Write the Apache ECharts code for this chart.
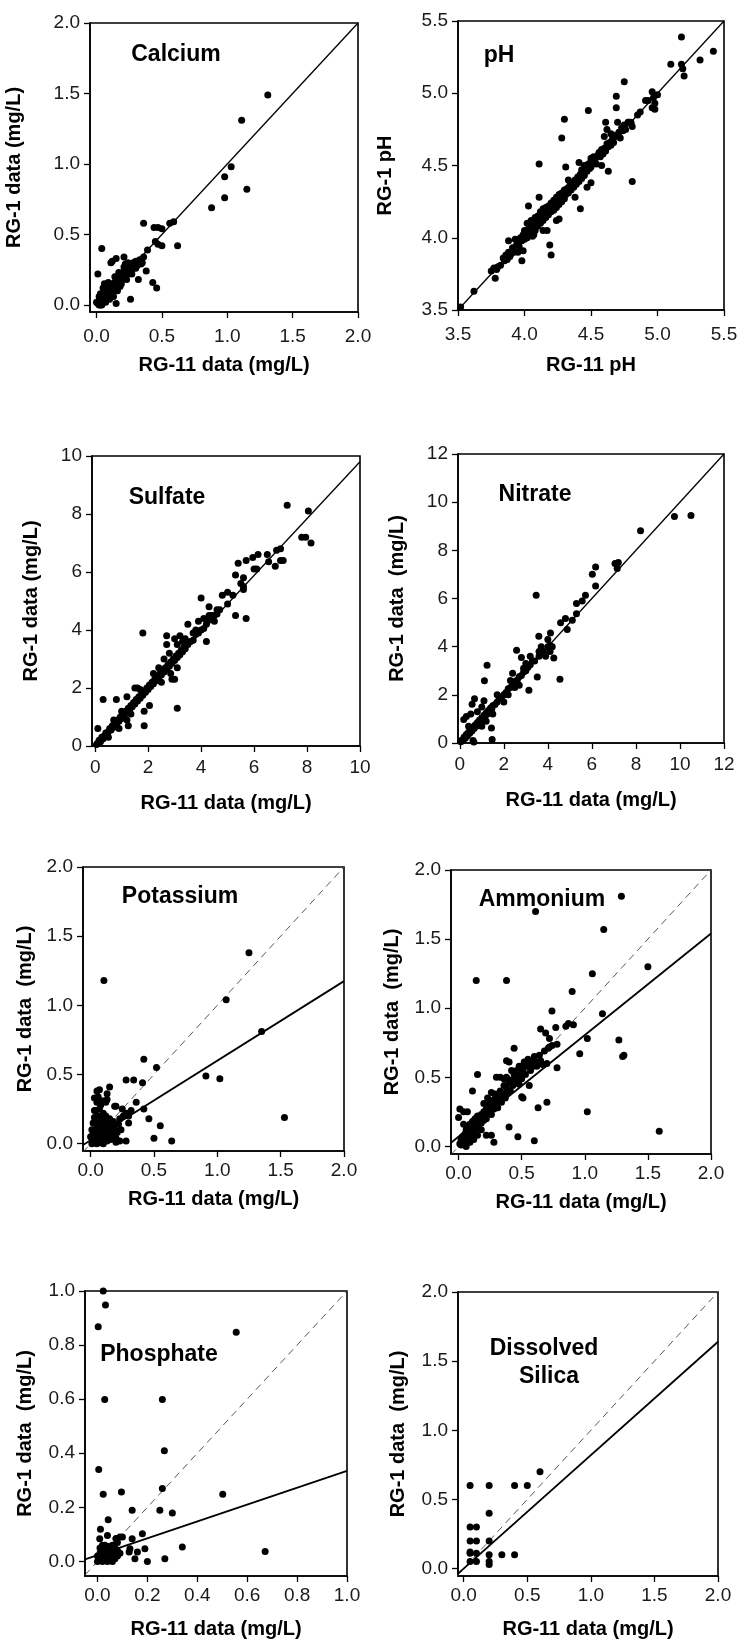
<!DOCTYPE html>
<html>
<head>
<meta charset="utf-8">
<script src="https://cdn.jsdelivr.net/npm/echarts@6/dist/echarts.min.js"></script>
<style>
html,body{margin:0;padding:0;background:#fff;}
#chart{width:754px;height:1641px;}
</style>
</head>
<body>
<div id="chart"></div>
<script>
// ---------------- DATA ----------------
const calciumPts = [
[1.31,1.49],[1.11,1.31],[1.03,0.98],[0.98,0.91],[1.15,0.82],[0.98,0.76],[0.88,0.69],
[0.36,0.58],[0.44,0.55],[0.47,0.55],[0.50,0.54],[0.56,0.58],[0.59,0.59],[0.62,0.42],[0.47,0.43],[0.50,0.42],[0.45,0.45],
[0.39,0.39],[0.36,0.34],[0.35,0.30],[0.30,0.31],[0.28,0.30],
[0.04,0.40],[0.01,0.22],[0.12,0.31],[0.15,0.33],[0.21,0.34],[0.11,0.30],
[0.43,0.16],[0.46,0.12],[0.26,0.04],[0.15,0.01],[0.32,0.18],[0.38,0.24],[0.27,0.22],[0.22,0.29],[0.25,0.27],
[0.01,0.01],[0.02,0.00],[0.02,0.03],[0.03,0.02],[0.04,0.05],[0.05,0.03],[0.05,0.06],[0.06,0.04],[0.06,0.08],[0.07,0.06],
[0.07,0.10],[0.08,0.07],[0.08,0.05],[0.09,0.09],[0.09,0.12],[0.10,0.08],[0.10,0.11],[0.11,0.13],[0.11,0.09],[0.12,0.12],
[0.12,0.15],[0.13,0.10],[0.13,0.14],[0.14,0.16],[0.14,0.12],[0.15,0.14],[0.15,0.18],[0.16,0.15],[0.17,0.19],[0.17,0.16],
[0.18,0.20],[0.18,0.17],[0.19,0.22],[0.20,0.19],[0.20,0.23],[0.21,0.20],[0.22,0.24],[0.22,0.21],[0.23,0.26],[0.24,0.22],
[0.25,0.25],[0.26,0.28],[0.27,0.25],[0.28,0.27],[0.29,0.30],[0.31,0.28],[0.33,0.32],[0.03,0.08],[0.05,0.12],[0.08,0.14],
[0.04,0.00],[0.07,0.02],[0.10,0.04],[0.12,0.07],[0.16,0.10],[0.06,0.15],[0.02,0.06],[0.00,0.02],[0.03,0.00],[0.19,0.15],
[0.23,0.18],[0.21,0.27],[0.17,0.23],[0.14,0.20],[0.09,0.16],[0.13,0.06],[0.18,0.13],[0.24,0.30],[0.30,0.26],[0.34,0.29]
];
const phPts = [
[3.52,3.52],[3.62,3.63],[3.75,3.77],[3.77,3.79],[3.78,3.72],[3.79,3.78],[3.80,3.80],[3.82,3.81],[3.84,3.86],[3.85,3.84],
[3.86,3.88],[3.87,3.85],[3.88,3.90],[3.89,3.87],[3.90,3.89],[3.91,3.93],[3.92,3.90],[3.93,3.99],[3.88,3.98],[3.94,3.95],
[3.95,3.97],[3.96,3.94],[3.97,4.00],[3.98,3.98],[3.99,4.02],[4.00,3.99],[4.00,4.05],[4.01,4.03],[4.02,4.00],[4.02,4.10],
[4.03,4.06],[4.04,4.08],[4.05,4.04],[4.05,4.12],[4.06,4.07],[4.07,4.10],[4.08,4.05],[4.08,4.14],[4.09,4.11],[4.10,4.08],
[4.10,4.15],[4.11,4.13],[4.12,4.10],[4.12,4.18],[4.13,4.15],[4.14,4.20],[4.14,4.12],[4.15,4.17],[4.16,4.14],[4.16,4.21],
[4.17,4.19],[4.18,4.16],[4.18,4.22],[4.19,4.20],[4.20,4.18],[4.20,4.24],[4.21,4.22],[4.22,4.26],[4.22,4.19],[4.23,4.24],
[4.24,4.28],[4.24,4.21],[4.25,4.26],[4.26,4.30],[4.26,4.23],[4.27,4.28],[4.28,4.31],[4.28,4.25],[4.29,4.29],[4.30,4.27],
[4.30,4.33],[4.31,4.30],[4.32,4.34],[4.33,4.31],[4.34,4.36],[4.35,4.33],[4.36,4.38],[4.37,4.35],[4.38,4.40],[4.39,4.37],
[4.40,4.42],[4.41,4.39],[4.42,4.44],[4.43,4.41],[4.43,4.47],[4.44,4.45],[4.45,4.43],[4.45,4.50],[4.46,4.48],[4.47,4.46],
[4.48,4.51],[4.49,4.48],[4.50,4.53],[4.50,4.49],[4.51,4.52],[4.52,4.56],[4.53,4.54],[4.54,4.51],[4.55,4.57],[4.56,4.59],
[4.57,4.56],[4.58,4.61],[4.59,4.58],[4.60,4.62],[4.61,4.60],[4.62,4.65],[4.63,4.63],[4.64,4.66],[4.65,4.64],[4.66,4.68],
[4.67,4.66],[4.68,4.71],[4.70,4.70],[4.71,4.73],[4.72,4.69],[4.73,4.76],[4.74,4.74],[4.75,4.78],[4.76,4.75],[4.78,4.80],
[4.80,4.79],[4.81,4.77],[4.85,4.85],[4.87,4.87],[4.91,4.95],[4.78,4.80],[4.80,4.80],[4.65,4.72],[4.70,4.80],
[4.03,4.22],[4.11,4.28],[4.11,4.51],[4.19,3.95],[4.20,3.88],[3.98,3.84],[3.99,3.91],[4.28,4.69],[4.30,4.82],[4.31,4.49],
[4.48,4.88],[4.61,4.80],[4.62,4.75],[4.69,4.90],[4.69,4.98],[4.75,5.08],[4.63,4.46],[4.81,4.39],[4.42,4.20],[4.47,4.35],
[4.50,4.38],[4.38,4.28],[4.24,4.12],[4.17,4.05],[4.07,4.02],[4.14,4.05],[4.60,4.70],[4.58,4.50],[4.50,4.55],[4.41,4.52],
[4.33,4.40],[4.26,4.13],[4.06,4.01],[3.95,3.90],
[4.93,4.95],[4.96,5.01],[4.97,4.97],[4.96,4.90],[4.98,4.89],[5.00,4.99],[4.98,4.93],
[5.18,5.39],[5.10,5.20],[5.18,5.20],[5.19,5.17],[5.20,5.12],[5.32,5.23],[5.42,5.29]
];
const sulfatePts = [
[0.05,0.05],[0.1,0.1],[0.15,0.2],[0.2,0.15],[0.25,0.3],[0.3,0.25],[0.35,0.35],[0.4,0.45],[0.45,0.4],[0.5,0.5],
[0.55,0.6],[0.6,0.55],[0.65,0.7],[0.7,0.65],[0.75,0.8],[0.8,0.75],[0.85,0.9],[0.9,0.85],[0.95,1.0],[1.0,0.95],
[1.05,1.1],[1.1,1.05],[1.15,1.2],[1.2,1.15],[1.25,1.3],[1.3,1.25],[1.35,1.4],[1.4,1.35],[1.45,1.5],[1.5,1.45],
[1.55,1.6],[1.6,1.55],[1.65,1.7],[1.7,1.65],[1.75,1.8],[1.8,1.75],[1.85,1.9],[1.9,1.85],[1.95,2.0],[2.0,1.95],
[2.05,2.1],[2.1,2.05],[2.15,2.2],[2.2,2.15],[2.25,2.3],[2.3,2.25],[2.35,2.4],[2.4,2.35],[2.45,2.5],[2.5,2.45],
[2.55,2.6],[2.6,2.55],[2.65,2.7],[2.7,2.65],[2.75,2.8],[2.8,2.75],[2.85,2.9],[2.9,2.85],[2.95,3.0],[3.0,2.95],
[3.05,3.1],[3.1,3.05],[3.15,3.2],[3.2,3.15],[3.25,3.3],[3.3,3.25],[3.35,3.4],[3.4,3.35],[3.5,3.5],[3.6,3.6],
[3.7,3.65],[3.8,3.85],[3.9,3.9],[4.0,4.0],[4.1,4.05],[4.2,4.2],[4.3,4.35],[4.4,4.4],[4.5,4.5],[4.6,4.55],[4.7,4.7],
[0.1,0.6],[0.3,1.6],[0.8,1.6],[1.2,1.7],[1.5,2.0],[1.6,2.0],[1.7,1.95],[1.85,1.2],[2.05,1.4],[1.85,0.7],
[1.25,0.7],[1.2,0.9],[0.9,0.6],[1.8,3.9],[2.7,3.8],[2.7,3.5],[2.8,3.2],[3.0,3.7],[3.2,3.8],[3.1,3.5],
[3.0,2.3],[2.9,2.3],[2.85,2.5],[3.1,2.7],[3.1,1.3],[2.2,2.5],[2.4,2.7],[2.6,3.0],[3.5,4.2],[3.7,3.9],
[3.9,4.3],[4.0,5.1],[4.2,3.6],[4.3,4.5],[4.3,4.8],[4.6,4.7],[4.8,5.2],[5.0,4.9],[5.0,5.3],[5.2,5.2],
[5.3,5.9],[5.3,4.5],[5.4,6.3],[5.5,5.6],[5.6,5.8],[5.6,5.5],[5.6,5.4],[5.7,4.4],[5.7,6.4],[5.95,6.5],
[6.0,6.1],[6.1,6.1],[6.15,6.6],[6.5,6.6],[6.55,6.35],[6.8,6.2],[6.85,6.75],[7.0,6.8],[7.0,6.4],[7.1,6.4],
[7.25,8.3],[8.05,8.1],[7.8,7.2],[7.95,7.2],[8.15,7.0],[3.8,4.0],[4.1,4.4],[4.4,4.5],[4.5,4.3],[3.3,3.6],
[3.4,3.7],[2.5,2.2],[1.0,1.2],[1.35,1.1],[0.5,0.3],[0.7,0.9]
];
const nitratePts = [
[0.05,0.05],[0.1,0.12],[0.15,0.1],[0.2,0.25],[0.25,0.2],[0.3,0.35],[0.35,0.3],[0.4,0.45],[0.45,0.4],[0.5,0.55],
[0.55,0.5],[0.6,0.65],[0.65,0.6],[0.7,0.75],[0.75,0.7],[0.8,0.85],[0.85,0.8],[0.9,0.95],[0.95,0.9],[1.0,1.05],
[1.05,1.0],[1.1,1.15],[1.15,1.1],[1.2,1.25],[1.25,1.2],[1.3,1.35],[1.35,1.3],[1.4,1.45],[1.45,1.4],[1.5,1.55],
[1.6,1.6],[1.7,1.7],[1.8,1.85],[1.9,1.9],[2.0,2.0],[2.1,2.1],[2.2,2.25],[2.3,2.3],[2.4,2.4],[2.5,2.55],
[2.6,2.6],[2.7,2.75],[2.8,2.8],[2.9,2.95],[3.0,3.0],[3.1,3.15],[3.2,3.25],[3.4,3.4],[3.6,3.6],[3.8,3.8],[4.0,4.0],[4.1,4.05],
[0.18,0.98],[0.3,1.1],[0.5,1.2],[0.56,1.61],[0.67,1.84],[0.8,1.3],[1.0,1.5],[1.12,2.58],[1.24,3.23],[1.1,1.75],
[0.4,0.7],[0.6,0.1],[0.64,0.04],[1.0,0.7],[1.2,0.9],[1.44,0.62],[1.47,0.15],[1.5,1.2],[1.7,2.0],[2.0,1.7],
[2.3,2.6],[2.4,2.9],[2.58,3.85],[2.6,2.6],[2.8,3.55],[3.0,3.3],[3.14,2.19],[3.2,3.6],[3.47,6.14],[3.52,2.74],
[3.59,4.43],[3.6,3.8],[3.7,4.0],[3.8,3.7],[3.9,3.6],[4.0,4.3],[4.12,4.57],[4.1,3.8],[4.2,4.0],[4.27,3.53],
[4.55,2.65],[4.58,4.99],[4.8,5.17],[4.88,4.71],[5.11,5.1],[5.3,5.37],[5.3,5.79],[5.56,5.9],[5.71,6.14],[6.02,7.01],
[6.17,7.31],[6.17,6.52],[7.05,7.45],[7.2,7.5],[7.15,7.25],[8.21,8.81],[9.75,9.4],[10.5,9.45],[2.2,2.0],[2.5,2.3],
[2.7,2.4],[2.9,3.1],[3.3,3.4]
];
const potassiumPts = [
[0.01,0.0],[0.02,0.02],[0.02,0.05],[0.03,0.01],[0.03,0.08],[0.04,0.03],[0.04,0.1],[0.05,0.0],[0.05,0.06],[0.05,0.12],
[0.06,0.02],[0.06,0.15],[0.06,0.2],[0.07,0.04],[0.07,0.08],[0.07,0.25],[0.08,0.01],[0.08,0.11],[0.08,0.18],[0.09,0.05],
[0.09,0.14],[0.1,0.0],[0.1,0.09],[0.1,0.22],[0.11,0.03],[0.11,0.16],[0.12,0.06],[0.12,0.12],[0.13,0.02],[0.13,0.09],
[0.14,0.15],[0.14,0.05],[0.15,0.11],[0.16,0.03],[0.16,0.08],[0.17,0.13],[0.18,0.06],[0.19,0.1],[0.2,0.04],[0.21,0.08],
[0.22,0.14],[0.24,0.1],[0.26,0.2],[0.28,0.22],[0.3,0.2],[0.32,0.24],[0.04,0.24],[0.05,0.3],[0.06,0.34],[0.05,0.38],
[0.07,0.39],[0.03,0.33],[0.02,0.15],[0.03,0.19],[0.01,0.1],[0.08,0.28],[0.09,0.31],[0.12,0.3],[0.13,0.32],[0.15,0.41],
[0.12,0.2],[0.15,0.18],[0.18,0.16],[0.2,0.14],[0.23,0.18],[0.25,0.25],[0.2,0.27],[0.19,0.27],[0.26,0.2],[0.3,0.15],
[0.36,0.3],[0.42,0.25],[0.46,0.18],[0.55,0.13],[0.5,0.04],[0.64,0.02],[0.28,0.02],[0.2,0.01],[0.23,0.02],[0.28,0.46],
[0.34,0.46],[0.41,0.44],[0.42,0.61],[0.52,0.55],[0.91,0.49],[1.02,0.47],[1.07,1.04],[1.25,1.38],[1.35,0.81],[0.105,1.18],
[1.53,0.19],[0.13,0.36],[0.03,0.24],[0.0,0.05],[0.01,0.04],[0.02,0.07],[0.04,0.05],[0.06,0.07],[0.08,0.04],[0.1,0.06],
[0.12,0.03],[0.14,0.07],[0.11,0.1]
];
const ammoniumPts = [
[0.01,0.02],[0.02,0.01],[0.02,0.05],[0.03,0.03],[0.03,0.07],[0.04,0.02],[0.04,0.06],[0.05,0.04],[0.05,0.09],[0.06,0.07],
[0.06,0.12],[0.07,0.05],[0.07,0.1],[0.08,0.08],[0.08,0.13],[0.09,0.11],[0.09,0.16],[0.1,0.09],[0.1,0.14],[0.11,0.12],
[0.11,0.18],[0.12,0.15],[0.12,0.1],[0.13,0.17],[0.13,0.2],[0.14,0.14],[0.14,0.19],[0.15,0.16],[0.15,0.22],[0.16,0.18],
[0.16,0.13],[0.17,0.2],[0.18,0.17],[0.18,0.23],[0.19,0.21],[0.2,0.19],[0.2,0.25],[0.21,0.22],[0.22,0.27],[0.22,0.2],
[0.23,0.24],[0.24,0.29],[0.25,0.26],[0.25,0.32],[0.26,0.23],[0.27,0.3],[0.28,0.34],[0.28,0.27],[0.29,0.38],[0.3,0.31],
[0.3,0.36],[0.31,0.28],[0.32,0.35],[0.33,0.4],[0.33,0.5],[0.34,0.32],[0.35,0.38],[0.36,0.44],[0.36,0.49],[0.37,0.35],
[0.38,0.42],[0.38,0.5],[0.39,0.39],[0.4,0.46],[0.4,0.61],[0.41,0.4],[0.42,0.48],[0.43,0.44],[0.44,0.52],[0.44,0.71],
[0.45,0.47],[0.46,0.55],[0.47,0.5],[0.48,0.58],[0.48,0.45],[0.49,0.52],[0.5,0.58],[0.5,0.49],[0.51,0.55],[0.52,0.61],
[0.53,0.52],[0.54,0.58],[0.55,0.63],[0.56,0.6],[0.57,0.55],[0.58,0.62],[0.59,0.58],[0.6,0.65],[0.61,0.61],[0.62,0.58],
[0.63,0.6],[0.64,0.66],[0.65,0.62],[0.67,0.59],[0.68,0.69],[0.7,0.6],[0.72,0.72],[0.74,0.73],
[0.0,0.21],[0.01,0.27],[0.04,0.25],[0.07,0.25],[0.04,0.16],[0.11,0.4],[0.15,0.52],[0.14,1.2],[0.38,1.2],[0.61,1.7],
[1.29,1.81],[1.15,1.57],[1.06,1.25],[1.5,1.3],[0.9,1.12],[0.74,0.98],[1.14,0.96],[0.65,0.85],[0.69,0.82],[0.77,0.86],
[0.85,0.87],[0.87,0.89],[0.91,0.88],[0.72,0.78],[1.02,0.78],[1.27,0.77],[1.31,0.66],[1.3,0.65],[0.96,0.67],[0.78,0.74],
[0.71,0.71],[0.78,0.57],[0.56,0.44],[0.5,0.36],[0.51,0.35],[0.7,0.32],[0.63,0.28],[1.02,0.25],[1.59,0.11],[0.6,0.04],
[0.47,0.07],[0.4,0.14],[0.28,0.03],[0.26,0.08],[0.22,0.08],[0.2,0.31],[0.23,0.35],[0.26,0.39],[0.3,0.5],[0.38,0.62],
[0.42,0.55],[0.06,0.0],[0.09,0.03],[0.12,0.05],[0.15,0.08],[0.18,0.12]
];
const phosphatePts = [
[0.0,0.0],[0.0,0.02],[0.01,0.01],[0.01,0.03],[0.01,0.05],[0.02,0.0],[0.02,0.02],[0.02,0.04],[0.03,0.01],[0.03,0.03],
[0.03,0.05],[0.03,0.06],[0.04,0.02],[0.04,0.04],[0.05,0.01],[0.05,0.03],[0.05,0.05],[0.06,0.02],[0.06,0.04],[0.06,0.06],
[0.07,0.01],[0.07,0.03],[0.07,0.05],[0.08,0.02],[0.08,0.04],[0.09,0.03],[0.04,0.0],[0.06,0.0],[0.02,0.06],[0.045,0.055],
[0.065,0.035],[0.075,0.085],[0.09,0.09],[0.1,0.09],[0.08,0.07],
[0.023,1.0],[0.032,0.948],[0.003,0.868],[0.556,0.847],[0.029,0.599],[0.26,0.599],[0.268,0.409],[0.005,0.34],[0.26,0.27],
[0.023,0.248],[0.096,0.257],[0.502,0.248],[0.139,0.189],[0.25,0.189],[0.3,0.179],[0.043,0.154],[0.012,0.119],[0.04,0.096],
[0.18,0.102],[0.009,0.084],[0.139,0.084],[0.074,0.084],[0.34,0.053],[0.672,0.037],[0.19,0.047],[0.16,0.035],
[0.15,0.01],[0.2,0.0],[0.27,0.01],[0.13,0.047],[0.127,0.035]
];
const silicaPts = [
[0.05,0.6],[0.2,0.6],[0.4,0.6],[0.5,0.6],[0.6,0.7],[0.2,0.4],[0.05,0.3],[0.1,0.3],[0.05,0.2],[0.1,0.2],
[0.2,0.2],[0.05,0.11],[0.1,0.11],[0.2,0.1],[0.3,0.1],[0.4,0.1],[0.05,0.05],[0.1,0.05],[0.2,0.05],[0.2,0.03],[0.05,0.12]
];

// reference / regression lines (end points in data units)
const calciumFit = [[0,0],[2,2]];
const phFit = [[3.5,3.5],[5.5,5.5]];
const sulfateFit = [[0,0],[10,9.8]];
const nitrateFit = [[0,0],[12,12]];
const potassiumFit = [[-0.06,-0.0095],[2,1.175]];
const ammoniumFit = [[-0.06,0.026],[2,1.54]];
const phosphateFit = [[-0.05,0.0074],[1,0.335]];
const silicaFit = [[-0.045,-0.037],[2,1.64]];
const potassiumOneToOne = [[-0.06,-0.06],[2,2]];
const ammoniumOneToOne = [[-0.06,-0.06],[2,2]];
const phosphateOneToOne = [[-0.05,-0.05],[1,1]];
const silicaOneToOne = [[-0.054,-0.054],[2,2]];

// tick labels
const ticks0to2 = [0,0.5,1,1.5,2];
const ticksPH = [3.5,4,4.5,5,5.5];
const ticks0to10 = [0,2,4,6,8,10];
const ticks0to12 = [0,2,4,6,8,10,12];
const ticks0to1 = [0,0.2,0.4,0.6,0.8,1];

// ---------------- LAYOUT ----------------
const FONT = '"Liberation Sans", Arial, Helvetica, sans-serif';
const panels = [
 {title:['Calcium'], tc:[[176,55]], pts:calciumPts, fit:calciumFit, one:null,
  g:[90,23,268,289], x:[-0.05,2,ticks0to2,1], y:[-0.05,2,ticks0to2,1],
  xname:'RG-11 data (mg/L)', yname:'RG-1 data (mg/L)', xm:15, xg:43, yg:66, ypad:0},
 {title:['pH'], tc:[[499,56]], pts:phPts, fit:phFit, one:null,
  g:[458,21,266,289], x:[3.5,5.5,ticksPH,1], y:[3.5,5.5,ticksPH,1],
  xname:'RG-11 pH', yname:'RG-1 pH', xm:15, xg:45, yg:63, ypad:20},
 {title:['Sulfate'], tc:[[167,498]], pts:sulfatePts, fit:sulfateFit, one:null,
  g:[92,456,268,290], x:[-0.12,10,ticks0to10,0], y:[0,10,ticks0to10,0],
  xname:'RG-11 data (mg/L)', yname:'RG-1 data (mg/L)', xm:12, xg:47, yg:51, ypad:0},
 {title:['Nitrate'], tc:[[535,495]], pts:nitratePts, fit:nitrateFit, one:null,
  g:[458,454,266,289], x:[-0.08,12,ticks0to12,0], y:[0,12,ticks0to12,0],
  xname:'RG-11 data (mg/L)', yname:'RG-1 data  (mg/L)', xm:12, xg:47, yg:51, ypad:0},
 {title:['Potassium'], tc:[[180,897]], pts:potassiumPts, fit:potassiumFit, one:potassiumOneToOne,
  g:[83,867,261,284], x:[-0.06,2,ticks0to2,1], y:[-0.053,2,ticks0to2,1],
  xname:'RG-11 data (mg/L)', yname:'RG-1 data  (mg/L)', xm:10, xg:38, yg:48, ypad:0},
 {title:['Ammonium'], tc:[[542,900]], pts:ammoniumPts, fit:ammoniumFit, one:ammoniumOneToOne,
  g:[451,870,260,284], x:[-0.06,2,ticks0to2,1], y:[-0.055,2,ticks0to2,1],
  xname:'RG-11 data (mg/L)', yname:'RG-1 data  (mg/L)', xm:10, xg:38, yg:49, ypad:0},
 {title:['Phosphate'], tc:[[159,1355]], pts:phosphatePts, fit:phosphateFit, one:phosphateOneToOne,
  g:[85,1291,262,285], x:[-0.05,1,ticks0to1,1], y:[-0.054,1,ticks0to1,1],
  xname:'RG-11 data (mg/L)', yname:'RG-1 data  (mg/L)', xm:10, xg:43, yg:50, ypad:0},
 {title:['Dissolved','Silica'], tc:[[544,1349],[549,1377]], pts:silicaPts, fit:silicaFit, one:silicaOneToOne,
  g:[458,1292,260,284], x:[-0.045,2,ticks0to2,1], y:[-0.054,2,ticks0to2,1],
  xname:'RG-11 data (mg/L)', yname:'RG-1 data  (mg/L)', xm:10, xg:43, yg:50, ypad:0}
];

const grid=[], xAxis=[], yAxis=[], series=[], graphic=[];
panels.forEach((p,i)=>{
  grid.push({left:p.g[0], top:p.g[1], width:p.g[2], height:p.g[3], show:true,
    borderColor:'#000', borderWidth:1.6, backgroundColor:'transparent', containLabel:false});
  const mk = (ax, isX)=>({
    type:'value', gridIndex:i, min:ax[0], max:ax[1], position:isX?'bottom':'left',
    splitLine:{show:false},
    axisLine:{show:true, onZero:false, lineStyle:{color:'#000', width:1.6}},
    axisTick:{show:true, inside:false, length:6, customValues:ax[2], lineStyle:{color:'#000', width:1.3}},
    axisLabel:{show:true, customValues:ax[2], margin:isX?p.xm:10, color:'#1a1a1a',
      fontFamily:FONT, fontSize:19, formatter:(v)=>Number(v).toFixed(ax[3])},
    name:isX?p.xname:p.yname, nameLocation:'middle', nameGap:isX?p.xg:p.yg,
    nameTextStyle:{fontFamily:FONT, fontSize:20, fontWeight:'bold', color:'#000',
      padding: isX ? 0 : [0, p.ypad, 0, 0]}
  });
  xAxis.push(mk(p.x,true));
  yAxis.push(mk(p.y,false));
  if (p.one) series.push({type:'line', xAxisIndex:i, yAxisIndex:i, data:p.one, symbol:'none',
    lineStyle:{color:'#444', width:0.9, type:[7,5]}, silent:true, z:2});
  series.push({type:'line', xAxisIndex:i, yAxisIndex:i, data:p.fit, symbol:'none',
    lineStyle:{color:'#000', width:p.one?1.8:1.3}, silent:true, z:3});
  series.push({type:'scatter', xAxisIndex:i, yAxisIndex:i, data:p.pts, symbol:'circle',
    symbolSize:7, itemStyle:{color:'#000', opacity:1}, z:4});
  p.title.forEach((t,k)=>graphic.push({type:'text', x:p.tc[k][0], y:p.tc[k][1], z:10,
    style:{text:t, fill:'#000', font:'bold 23px '+FONT, textAlign:'center', textVerticalAlign:'middle'}}));
});

const chart = echarts.init(document.getElementById('chart'), null, {renderer:'canvas'});
chart.setOption({animation:false, backgroundColor:'#fff', grid, xAxis, yAxis, series, graphic});
</script>
</body>
</html>
